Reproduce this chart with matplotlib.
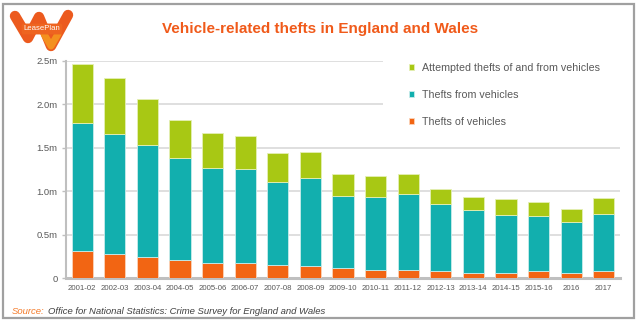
import matplotlib.pyplot as plt
import numpy as np
from matplotlib.lines import Line2D
from matplotlib.patches import Rectangle

plt.rcParams['font.family'] = ['Liberation Sans', 'DejaVu Sans']

W, H = 640, 322

years = ['2001-02', '2002-03', '2003-04', '2004-05', '2005-06', '2006-07',
         '2007-08', '2008-09', '2009-10', '2010-11', '2011-12', '2012-13',
         '2013-14', '2014-15', '2015-16', '2016', '2017']
# millions
thefts_of = [0.31, 0.28, 0.24, 0.21, 0.17, 0.17, 0.15, 0.14, 0.11, 0.09,
             0.09, 0.085, 0.06, 0.06, 0.08, 0.055, 0.085]
thefts_from = [1.47, 1.38, 1.29, 1.175, 1.095, 1.09, 0.96, 1.01, 0.83, 0.845,
               0.88, 0.765, 0.72, 0.665, 0.64, 0.585, 0.65]
attempted = [0.69, 0.645, 0.53, 0.44, 0.41, 0.375, 0.335, 0.30, 0.26, 0.24,
             0.225, 0.17, 0.15, 0.19, 0.16, 0.15, 0.185]

yticks = [0, 0.5, 1.0, 1.5, 2.0, 2.5]
ytick_labels = ['0', '0.5m', '1.0m', '1.5m', '2.0m', '2.5m']

c_orange = '#F26513'
c_teal = '#12AFAE'
c_green = '#A8C814'
grey_txt = '#595959'


def fx(px):
    return px / W


def fy(py):
    return 1 - py / H


fig = plt.figure(figsize=(W / 100, H / 100), dpi=100)
ax = fig.add_axes([fx(66), fy(278), fx(620) - fx(66), fy(61) - fy(278)])

x = np.arange(len(years))
of = np.array(thefts_of)
fr = np.array(thefts_from)
at = np.array(attempted)
bw = 0.65
b1 = ax.bar(x, of, bw, color=c_orange, edgecolor='#FBD3B8', linewidth=0.6,
            label='Thefts of vehicles', zorder=3)
b2 = ax.bar(x, fr, bw, bottom=of, color=c_teal, edgecolor='#C8ECEB',
            linewidth=0.6, label='Thefts from vehicles', zorder=3)
b3 = ax.bar(x, at, bw, bottom=of + fr, color=c_green, edgecolor='#E4EFB5',
            linewidth=0.6, label='Attempted thefts of and from vehicles', zorder=3)

ax.set_xlim(-0.5, len(years) - 0.5)
ax.set_ylim(0, 2.5)
ax.set_yticks(yticks)
ax.set_yticklabels(ytick_labels)
ax.set_xticks(x)
ax.set_xticklabels(years)
ax.yaxis.grid(True, color='#D9D9D9', linewidth=1.2)
ax.set_axisbelow(True)
ax.tick_params(axis='y', length=3, width=1, color='#BFBFBF', labelsize=6.8,
               labelcolor=grey_txt, pad=3)
ax.tick_params(axis='x', length=0, labelsize=5.6, labelcolor=grey_txt, pad=5)
for s in ['top', 'right']:
    ax.spines[s].set_visible(False)
ax.spines['left'].set_color('#BFBFBF')
ax.spines['left'].set_linewidth(1.5)
ax.spines['bottom'].set_color('#BFBFBF')
ax.spines['bottom'].set_linewidth(2.2)

# white box behind legend hides upper gridlines
ax.add_patch(Rectangle((fx(383), fy(147) + 0.004), fx(621) - fx(383), fy(50) - fy(147),
                       transform=fig.transFigure, facecolor='white',
                       edgecolor='none', zorder=1, clip_on=False))

leg = ax.legend(handles=[b3, b2, b1], loc='upper left',
                bbox_to_anchor=(fx(409), fy(63)), bbox_transform=fig.transFigure,
                frameon=False, fontsize=7.7, handlelength=0.5, handleheight=0.5,
                handletextpad=0.75, labelspacing=1.6, borderpad=0,
                borderaxespad=0)
for t in leg.get_texts():
    t.set_color(grey_txt)

fig.text(0.5, fy(29), 'Vehicle-related thefts in England and Wales',
         ha='center', va='center', fontsize=11, fontweight='bold',
         color='#F05A1A')

fig.text(fx(12), fy(311), 'Source:', ha='left', va='center', fontsize=6.8,
         style='italic', color='#F47B2A')
fig.text(fx(48), fy(311),
         'Office for National Statistics: Crime Survey for England and Wales',
         ha='left', va='center', fontsize=6.8, style='italic', color='#3F3F3F')

# outer frame
fig.add_artist(Rectangle((fx(3), fy(318)), fx(634) - fx(3), fy(4) - fy(318),
                         transform=fig.transFigure, facecolor='none',
                         edgecolor='#A0A0A0', linewidth=1.6))

# LeasePlan logo (simplified)
lx = [15, 28, 39, 51, 68]
ly = [16, 38, 17, 46, 15]
fig.add_artist(Line2D([fx(v) for v in lx], [fy(v) for v in ly],
                      transform=fig.transFigure, color='#EC5A1E', linewidth=7.5,
                      solid_capstyle='round', solid_joinstyle='round'))
fig.add_artist(Line2D([fx(v) for v in [44, 51, 58]], [fy(v) for v in [34, 46, 34]],
                      transform=fig.transFigure, color='#F4901E', linewidth=5,
                      solid_capstyle='round', solid_joinstyle='round'))
fig.text(fx(42), fy(29), 'LeasePlan', ha='center', va='center', fontsize=5.6,
         color='white',
         bbox=dict(boxstyle='round,pad=0.25', facecolor='#EE6420', edgecolor='none'))

fig.savefig('out.png', dpi=100)
